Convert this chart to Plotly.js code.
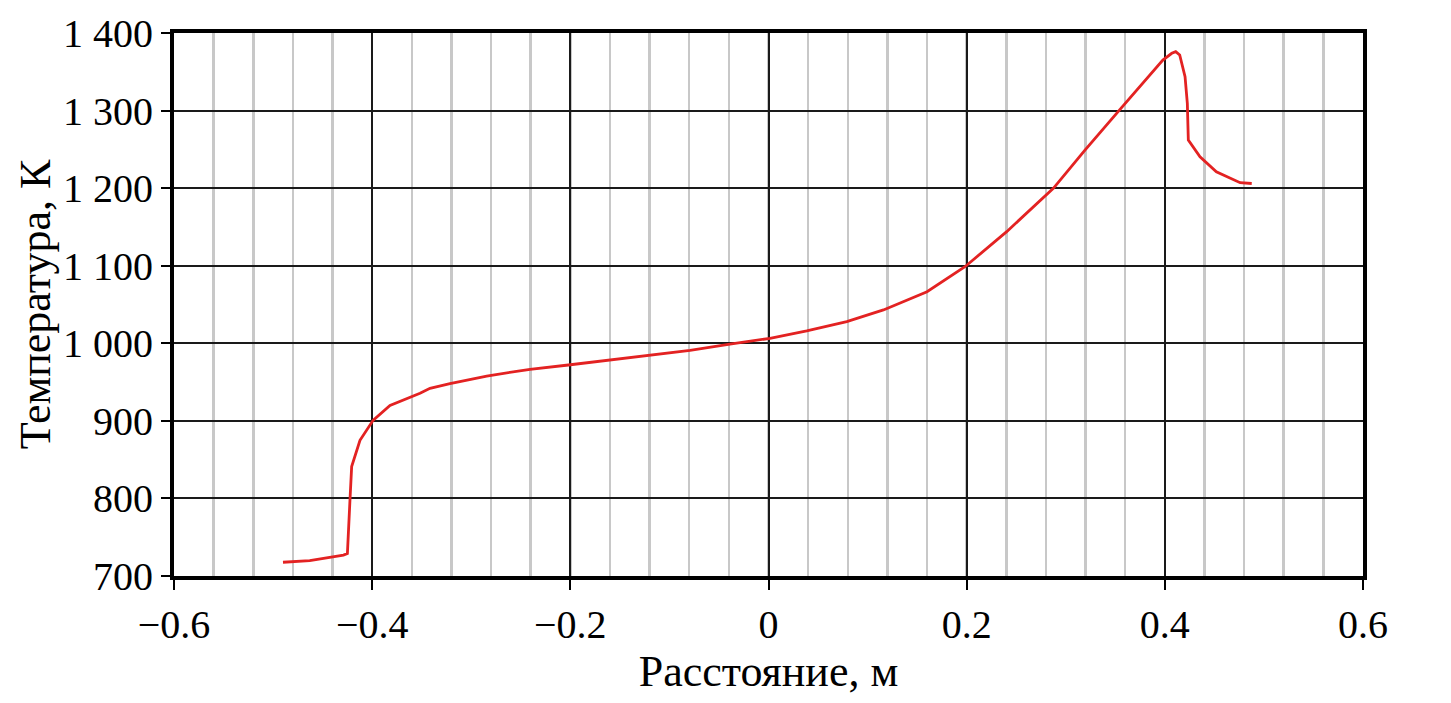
<!DOCTYPE html>
<html>
<head>
<meta charset="utf-8">
<script src="https://cdn.plot.ly/plotly-3.0.1.min.js"></script>
<style>html,body{margin:0;padding:0;background:#fff;}#chart{width:1451px;height:703px;}</style>
</head>
<body>
<div id="chart"></div>
<script>
const distance = [-0.490, -0.463, -0.429, -0.425, -0.4224, -0.4207, -0.4123, -0.3989, -0.382, -0.3517, -0.3416, -0.3215, -0.2844, -0.2407, -0.202, -0.160, -0.1196, -0.0792, -0.0389, 0.0015, 0.0386, 0.079, 0.116, 0.160, 0.1983, 0.2404, 0.2875, 0.3194, 0.3548, 0.398, 0.407, 0.411, 0.415, 0.4204, 0.4227, 0.4237, 0.4355, 0.452, 0.476, 0.4877];
const temperature = [717.7, 719.7, 727, 729, 798, 841, 875, 901, 920, 935.5, 942, 948, 957.8, 966.5, 972, 978.5, 985, 991, 999, 1006.4, 1016, 1028, 1043, 1066.5, 1098.7, 1143.9, 1199.8, 1249, 1301.6, 1365, 1373.8, 1376, 1371.6, 1343.7, 1309.4, 1262, 1240.5, 1221, 1207, 1206];
const xTickVals = [-0.6, -0.4, -0.2, 0, 0.2, 0.4, 0.6];
const xTickLabels = ["\u22120.6", "\u22120.4", "\u22120.2", "0", "0.2", "0.4", "0.6"];
const yTickVals = [700, 800, 900, 1000, 1100, 1200, 1300, 1400];
const yTickLabels = ["700", "800", "900", "1 000", "1 100", "1 200", "1 300", "1 400"];
const xTitle = "Расстояние, м";
const yTitle = "Температура, К";

const font = "Liberation Serif, Times New Roman, serif";

Plotly.newPlot("chart", [{
  x: distance, y: temperature, type: "scatter", mode: "lines",
  line: {color: "#e32222", width: 2.8}, hoverinfo: "x+y"
}], {
  width: 1451, height: 703,
  margin: {l: 174, r: 88, t: 33, b: 127},
  paper_bgcolor: "#fff", plot_bgcolor: "#fff",
  showlegend: false,
  font: {family: font, color: "#000", size: 40},
  xaxis: {
    range: [-0.6, 0.6], tickvals: xTickVals, ticktext: xTickLabels,
    showgrid: true, gridcolor: "#1a1a1a", gridwidth: 2,
    minor: {dtick: 0.04, tick0: 0, showgrid: true, gridcolor: "#c8c8c8", gridwidth: 2.5, ticks: ""},
    ticks: "outside", ticklen: 10, tickwidth: 2, tickcolor: "#000",
    showline: true, linecolor: "#000", linewidth: 4, mirror: true,
    zeroline: false,
    tickfont: {family: font, size: 40},
    title: {text: xTitle, font: {family: font, size: 44}, standoff: 0}
  },
  yaxis: {
    range: [700, 1400], tickvals: yTickVals, ticktext: yTickLabels,
    showgrid: true, gridcolor: "#1a1a1a", gridwidth: 2,
    ticks: "outside", ticklen: 9, tickwidth: 2, tickcolor: "#000",
    showline: true, linecolor: "#000", linewidth: 4, mirror: true,
    zeroline: false,
    tickfont: {family: font, size: 40},
    title: {text: yTitle, font: {family: font, size: 44}, standoff: 0}
  }
}, {displayModeBar: false, staticPlot: true});
</script>
</body>
</html>
